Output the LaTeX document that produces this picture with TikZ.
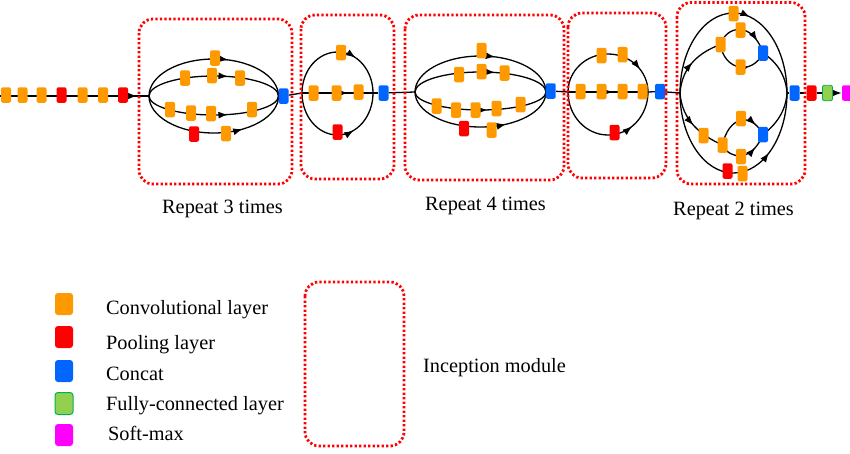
\documentclass[tikz,border=0pt]{standalone}
\usepackage{fontspec}
\setmainfont{Liberation Serif}
\usetikzlibrary{arrows.meta,decorations.markings,backgrounds}
\definecolor{cOr}{RGB}{255,153,0}
\definecolor{cRd}{RGB}{255,0,0}
\definecolor{cBl}{RGB}{0,102,255}
\definecolor{cGr}{RGB}{146,208,80}
\definecolor{cGrD}{RGB}{0,176,80}
\definecolor{cMg}{RGB}{255,0,255}
\begin{document}
\begin{tikzpicture}[x=1pt,y=1pt,
  blk/.style={minimum width=10pt,minimum height=15.5pt,inner sep=0pt,rounded corners=2pt,draw=none},
  conv/.style={blk,fill=cOr},
  pool/.style={blk,fill=cRd},
  cat/.style={blk,fill=cBl},
  fc/.style={blk,fill=cGr,draw=cGrD,line width=0.8pt},
  smax/.style={blk,fill=cMg},
  lgd/.style={minimum width=18pt,minimum height=22pt,rounded corners=3pt},
  wire/.style={line width=1.3pt,black},
  arr/.style={postaction={decorate},decoration={markings,mark=at position #1 with {\arrow{Latex[length=9.5pt,width=7pt]}}}},
  module/.style={draw=cRd,line width=2.8pt,dash pattern=on 2.3pt off 2.2pt,rounded corners=14pt},
  lab/.style={font=\fontsize{20.3}{24}\selectfont,anchor=base west,inner sep=0pt}]
\useasboundingbox (0,0) rectangle (850,-453);

% ---------------- input chain
\coordinate (start) at (0,-96);
\node[conv] (i1) at (6,-95) {};
\node[conv] (i2) at (22.5,-95) {};
\node[conv] (i3) at (41.5,-95) {};
\node[pool] (i4) at (61.5,-95) {};
\node[conv] (i5) at (82.5,-95) {};
\node[conv] (i6) at (103,-95) {};
\node[pool] (i7) at (123,-95) {};

% ---------------- module 1
\coordinate (J1) at (149,-96);
\node[cat] (c1) at (283.5,-96) {};
\coordinate (K1) at (278.5,-96);
\node[conv] (m1a) at (215,-58) {};
\node[conv] (m1b) at (185,-78) {};
\node[conv] (m1c) at (212,-75.5) {};
\node[conv] (m1d) at (240,-78) {};
\node[conv] (m1e) at (170,-109.5) {};
\node[conv] (m1f) at (191,-113) {};
\node[conv] (m1g) at (211,-113.5) {};
\node[conv] (m1h) at (252,-109.5) {};
\node[pool] (m1i) at (194,-134) {};
\node[conv] (m1j) at (226,-133.5) {};

% ---------------- module 2
\coordinate (J2) at (302,-93);
\coordinate (K2) at (373,-93);
\node[cat] (c2) at (383.5,-93) {};
\node[conv] (m2a) at (341,-52.5) {};
\node[conv] (m2b) at (313.5,-93) {};
\node[conv] (m2c) at (336.5,-93) {};
\node[conv] (m2d) at (358.5,-92) {};
\node[pool] (m2e) at (337.5,-132) {};

% ---------------- module 3
\coordinate (J3) at (415,-92);
\coordinate (K3) at (546,-92);
\node[cat] (c3) at (550.7,-91) {};
\node[conv] (m3a) at (481.5,-50.5) {};
\node[conv] (m3b) at (459,-74.5) {};
\node[conv] (m3c) at (481.5,-71.5) {};
\node[conv] (m3d) at (504.5,-73) {};
\node[conv] (m3e) at (436.7,-106) {};
\node[conv] (m3f) at (456,-110) {};
\node[conv] (m3g) at (475.5,-110) {};
\node[conv] (m3h) at (496.5,-108.5) {};
\node[conv] (m3i) at (520.5,-104.5) {};
\node[pool] (m3j) at (464,-128.5) {};
\node[conv] (m3k) at (491.7,-130) {};

% ---------------- module 4
\coordinate (J4) at (568,-92);
\coordinate (K4) at (648,-92);
\node[cat] (c4) at (660,-91.5) {};
\node[conv] (m4a) at (601.5,-55.5) {};
\node[conv] (m4b) at (622.5,-54.5) {};
\node[conv] (m4c) at (580.5,-91.5) {};
\node[conv] (m4d) at (601.5,-91.5) {};
\node[conv] (m4e) at (622.5,-91.5) {};
\node[conv] (m4f) at (642.5,-91.5) {};
\node[pool] (m4g) at (614.5,-132.5) {};

% ---------------- module 5
\coordinate (J5) at (680,-93);
\coordinate (K5) at (787,-93);
\node[cat] (c5) at (794.5,-93) {};
\node[conv] (m5a) at (733.5,-13.5) {};
\node[pool] (m5b) at (727.5,-171) {};
\node[conv] (m5c) at (742.5,-173.5) {};
\node[conv] (m5d) at (720.5,-44.5) {};
\node[conv] (m5e) at (740.5,-30) {};
\node[conv] (m5f) at (740.5,-67) {};
\node[cat]  (t5)  at (763,-53) {};
\node[conv] (m5g) at (703.5,-135.5) {};
\node[conv] (m5h) at (722.5,-145) {};
\node[conv] (m5i) at (741,-118.5) {};
\node[conv] (m5j) at (741,-156.5) {};
\node[cat]  (b5)  at (763,-134.5) {};

% ---------------- tail
\node[pool] (r5) at (811.5,-93) {};
\node[fc]   (g5) at (827.5,-93) {};
\node[smax] (s5) at (847,-93) {};

\begin{scope}[on background layer]
  \draw[wire,arr=0.92] (start) -- (J1);
  % module 1
  \draw[wire,arr=0.59] (J1) arc[start angle=180,end angle=0,x radius=64.75pt,y radius=37pt];
  \draw[wire,arr=0.60] (J1) arc[start angle=180,end angle=0,x radius=64.75pt,y radius=20pt];
  \draw[wire,arr=0.60] (J1) arc[start angle=180,end angle=360,x radius=64.75pt,y radius=19pt];
  \draw[wire,arr=0.68] (J1) arc[start angle=180,end angle=360,x radius=64.75pt,y radius=37pt];
  \draw[wire] (c1) -- (J2);
  % module 2
  \draw[wire,arr=0.66] (J2) arc[start angle=180,end angle=0,x radius=35.5pt,y radius=41pt];
  \draw[wire,arr=0.65] (J2) -- (K2);
  \draw[wire,arr=0.64] (J2) arc[start angle=180,end angle=360,x radius=35.5pt,y radius=42pt];
  \draw[wire] (K2) -- (c2);
  \draw[wire] (c2) -- (J3);
  % module 3
  \draw[wire,arr=0.59] (J3) arc[start angle=180,end angle=0,x radius=65.5pt,y radius=36pt];
  \draw[wire,arr=0.60] (J3) arc[start angle=180,end angle=0,x radius=65.5pt,y radius=20pt];
  \draw[wire,arr=0.55] (J3) arc[start angle=180,end angle=360,x radius=65.5pt,y radius=18pt];
  \draw[wire,arr=0.66] (J3) arc[start angle=180,end angle=360,x radius=65.5pt,y radius=35pt];
  \draw[wire] (K3) -- (c3);
  \draw[wire] (c3) -- (J4);
  % module 4
  \draw[wire,arr=0.80] (J4) arc[start angle=180,end angle=0,x radius=40pt,y radius=38pt];
  \draw[wire,arr=0.56] (J4) -- (K4);
  \draw[wire,arr=0.70] (J4) arc[start angle=180,end angle=360,x radius=40pt,y radius=43pt];
  \draw[wire] (K4) -- (c4);
  \draw[wire] (c4) -- (J5);
  % module 5
  \draw[wire,arr=0.58] (J5) arc[start angle=180,end angle=0,x radius=53.5pt,y radius=80pt];
  \draw[wire,arr=0.70] (J5) arc[start angle=180,end angle=360,x radius=53.5pt,y radius=80pt];
  \draw[wire,arr=0.5] (J5) .. controls (682,-66) and (700,-52) .. (m5d.center);
  \draw[wire,arr=0.78] (m5d.center) .. controls (726,-26) and (752,-20) .. (t5.center);
  \draw[wire,arr=0.68] (m5d.center) .. controls (724,-70) and (752,-76) .. (t5.center);
  \draw[wire] (t5.center) .. controls (777,-62) and (786,-76) .. (K5);
  \draw[wire,arr=0.5] (J5) .. controls (682,-120) and (700,-135) .. (m5h.center);
  \draw[wire,arr=0.8] (m5h.center) .. controls (728,-118) and (750,-110) .. (b5.center);
  \draw[wire,arr=0.72] (m5h.center) .. controls (730,-160) and (752,-162) .. (b5.center);
  \draw[wire] (b5.center) .. controls (777,-124) and (786,-110) .. (K5);
  \draw[wire] (K5) -- (c5);
  \draw[wire] (c5) -- (r5) -- (g5);
  \draw[wire,-{Latex[length=9.5pt,width=7pt]}] (g5) -- (s5);
\end{scope}

% ---------------- dotted inception modules
\draw[module] (139,-19) rectangle (292,-184);
\draw[module] (301,-15) rectangle (394,-179);
\draw[module] (405,-15) rectangle (564,-180);
\draw[module] (568,-13) rectangle (666,-178);
\draw[module] (677,-2.5) rectangle (805,-184);

\node[lab] (t1) at (162,-213) {Repeat 3 times};
\node[lab] (t2) at (425,-210) {Repeat 4 times};
\node[lab] (t3) at (673,-215) {Repeat 2 times};

% ---------------- legend
\node[lgd,fill=cOr] (l1) at (64,-304) {};
\node[lgd,fill=cRd] (l2) at (64,-337) {};
\node[lgd,fill=cBl] (l3) at (64,-371) {};
\node[lgd,fill=cGr,draw=cGrD,line width=1pt] (l4) at (64,-403.5) {};
\node[lgd,fill=cMg] (l5) at (64,-435) {};
\node[lab] (n1) at (106,-314) {Convolutional layer};
\node[lab] (n2) at (106,-349) {Pooling layer};
\node[lab] (n3) at (106,-380.7) {Concat};
\node[lab] (n4) at (106,-410.7) {Fully-connected layer};
\node[lab] (n5) at (108,-440) {Soft-max};
\draw[module] (305,-282) rectangle (404,-446);
\node[lab] (n6) at (423,-372) {Inception module};
\end{tikzpicture}
\end{document}
